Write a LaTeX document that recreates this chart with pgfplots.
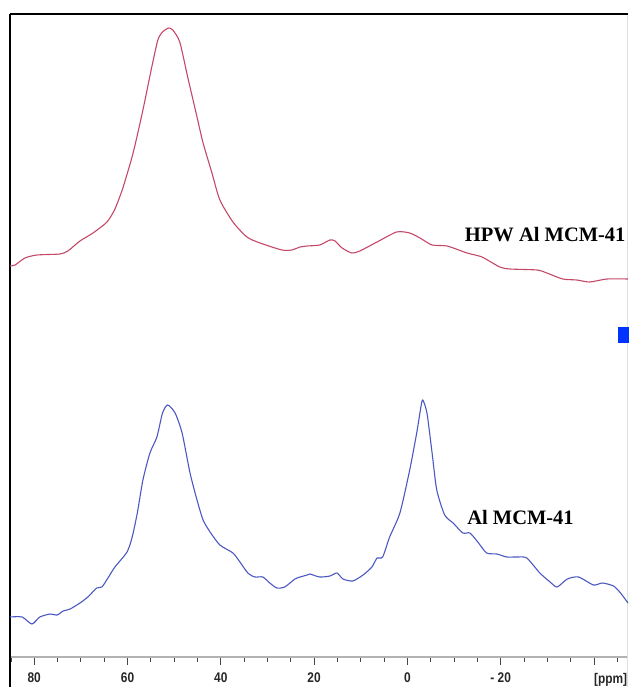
\documentclass[border=0pt]{standalone}
\usepackage{fontspec}
\setmainfont{Liberation Serif}
\newfontfamily\tickfont[FakeStretch=0.85]{Liberation Sans}
\usepackage{pgfplots}
\pgfplotsset{compat=1.18}
\definecolor{hpwred}{RGB}{196,72,104}
\definecolor{alblue}{RGB}{76,88,194}
\definecolor{marker}{RGB}{0,51,255}

\begin{document}
\begin{tikzpicture}
\begin{axis}[
    scale only axis,
    width=618pt, height=643pt,
    x dir=reverse,
    xmin=-47.3, xmax=85.2,
    ymin=0, ymax=643,
    axis line style={draw=none},
    ytick=\empty,
    xtick pos=bottom,
    xtick={-20,0,20,40,60,80},
    xticklabels={- 20,0,20,40,60,80},
    minor xtick={-45,-40,...,85},
    extra x ticks={-40},
    extra x tick labels={[ppm]},
    extra x tick style={xticklabel style={anchor=north west, xshift=-1pt}},
    tick align=outside,
    major tick length=8pt, minor tick length=5pt,
    every tick/.append style={gray!55!black, line width=0.8pt},
    every minor tick/.append style={gray!55!black, line width=0.8pt},
    xticklabel style={font=\tickfont\bfseries\fontsize{14}{14}\selectfont,
        inner sep=1pt, text=black!85, yshift=-7pt},
    /pgf/number format/assume math mode=true,
    clip=false,
]

% frame
\draw[gray!60, line width=1.2pt] (rel axis cs:0,0) -- (rel axis cs:1,0);
\draw[gray!25, line width=1pt] (rel axis cs:1,1) -- (rel axis cs:1,-0.0467);
\draw[black, line width=2pt] (rel axis cs:0,1) -- (rel axis cs:1,1);
\draw[black, line width=1.6pt] (rel axis cs:0,1) -- (rel axis cs:0,-0.0467);

% HPW Al MCM-41
\addplot[color=hpwred, line width=1.1pt, smooth, tension=0.4] coordinates {
(85.2,391)(84.1,392)(82.0,399)(79.4,402)(74.5,403)(72.8,406)(70.2,416)(67.4,424)
(64.4,435)(62.7,448)(61.0,469)(58.8,504)(56.7,547)(54.8,590)(53.5,617)(52.5,625)
(51.2,629)(50.3,627)(48.8,615)(47.1,580)(45.1,540)(43.8,514)(41.9,484)(40.2,457)
(37.4,435)(34.4,420)(31.6,414)(26.9,407)(24.8,407)(23.0,410)(21.5,411)(18.8,412)
(16.6,417)(15.5,416)(14.0,409)(11.9,404)(10.2,406)(6.5,415)(2.3,425)(-0.5,424)
(-2.7,419)(-5.3,412)(-8.5,411)(-12.8,404)(-16.0,400)(-19.8,390)(-22.0,388)
(-27.8,387)(-29.9,384)(-33.3,378)(-36.3,377)(-39.1,375)(-42.8,378)(-47.3,378)
};

% Al MCM-41
\addplot[color=alblue, line width=1.1pt, smooth, tension=0.4] coordinates {
(85.2,40)(82.6,40)(80.5,33)(78.8,40)(76.6,43)(75.1,42)(73.8,46)(72.3,48)(70.2,54)
(68.5,60)(66.6,69)(65.5,70)(64.2,79)(62.7,90)(60.1,105)(59.0,120)(57.9,144)
(56.7,177)(55.2,204)(53.7,220)(52.5,244)(51.4,252)(49.8,244)(48.3,224)(46.6,184)
(45.1,157)(43.8,137)(42.3,125)(40.2,112)(37.4,104)(35.9,95)(34.2,84)(32.7,80)
(31.0,80)(29.5,74)(28.0,69)(26.3,70)(24.1,78)(23.0,80)(21.5,82)(20.9,83)(18.8,80)
(16.6,81)(15.1,84)(13.8,78)(11.7,76)(9.5,82)(7.6,90)(6.5,99)(5.3,100)(3.8,120)
(1.6,144)(-0.5,187)(-2.0,224)(-2.9,250)(-3.3,257)(-4.2,244)(-5.3,204)(-6.3,167)
(-8.0,142)(-9.8,134)(-11.9,124)(-13.4,124)(-15.1,115)(-17.0,104)(-19.2,103)
(-21.3,100)(-23.5,100)(-25.6,99)(-28.4,84)(-30.6,75)(-32.1,70)(-34.3,78)
(-36.7,80)(-39.9,72)(-41.8,74)(-44.2,71)(-45.7,64)(-47.3,54)
};

% blue square on the right edge
\addplot[only marks, mark=square*, mark size=7.5pt, color=marker,
    mark options={xscale=0.67}] coordinates {(-46.2,322.5)};

\node[anchor=west, inner sep=0pt, font=\bfseries\fontsize{20.5}{20.5}\selectfont]
    at (axis cs:-12.3,422) {HPW Al MCM-41};
\node[anchor=west, inner sep=0pt, font=\bfseries\fontsize{20.5}{20.5}\selectfont]
    at (axis cs:-12.8,140) {Al MCM-41};

\coordinate (bl) at (rel axis cs:-0.01618,-0.04666);
\coordinate (tr) at (rel axis cs:1.00162,1.02177);
\end{axis}
\pgfresetboundingbox
\path[use as bounding box] (bl) rectangle (tr);
\end{tikzpicture}
\end{document}
